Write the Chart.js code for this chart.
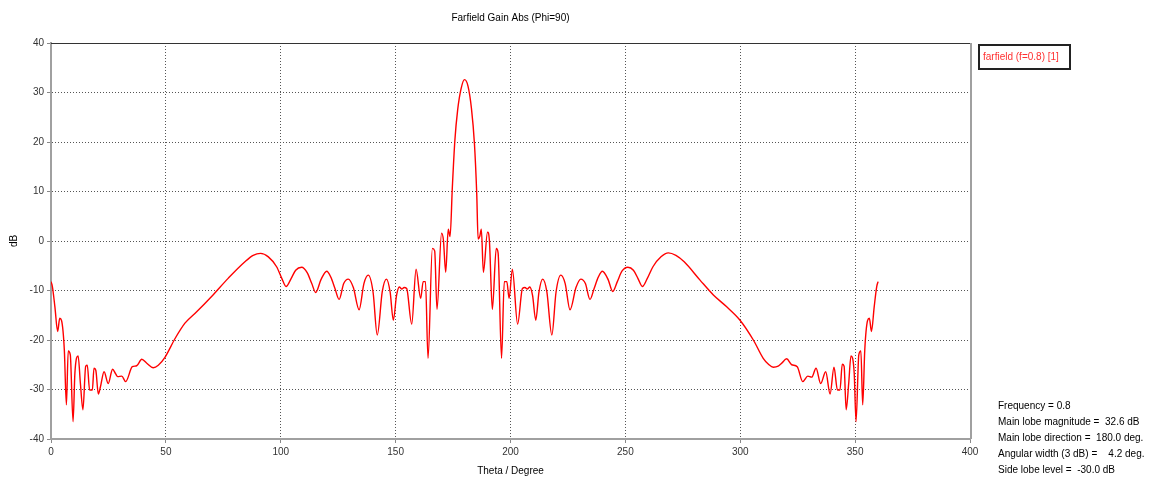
<!DOCTYPE html>
<html>
<head>
<meta charset="utf-8">
<script src="https://cdn.jsdelivr.net/npm/chart.js@4.4.1/dist/chart.umd.min.js"></script>
<style>
  body { margin: 0; background: #fff; }
  #farfieldChart { display: block; }
</style>
</head>
<body>
<canvas id="farfieldChart" width="1157" height="478"></canvas>
<script>
// theta in degrees, gain in dB
const theta = [
  0, 0.6, 1.7, 2.9, 3.8, 4.6, 5.8, 6.7, 7.5, 8.4, 9.6, 10.4, 11.8, 12.8, 13.9, 15.1, 15.8, 16.8, 18, 18.7,
  19.5, 20.6, 21.5, 23.1, 24.9, 26.8, 28.1, 29, 30.8, 32.5, 35.4, 37.3, 39.5, 41.7, 44.5, 46.7, 49.6, 54, 58.3, 63.4,
  69.9, 77.2, 84.4, 88, 91.2, 94.6, 98.2, 100.5, 102.3, 104.5, 106.5, 109.1, 111.5, 113.5, 115.2, 117.5, 120, 121.8, 123.6, 125.4,
  127.4, 129.4, 131.6, 134.1, 136.2, 138.1, 140.2, 142, 144.2, 146, 147.6, 149, 150.4, 151.6, 152.7, 153.7, 154.8, 157, 158.9, 160.9,
  162, 163, 164.1, 166, 167, 168, 170, 170.8, 171.8, 172.9, 173.7, 174.7, 175.8, 177, 178.5, 180,
  181.5, 183, 184.3, 185.3, 185.9, 186.6, 187.3, 188.2, 190, 190.8, 192.1, 193.8, 194.6, 196.1, 197.3, 198.4, 199.4, 200.8, 203.1, 205.2,
  206.3, 207.3, 208.4, 209.6, 211, 212.4, 214, 215.8, 218, 219.8, 221.9, 223.8, 225.9, 228.5, 230.6, 232.6, 234.6, 236.4, 238.2, 240,
  242.5, 244.5, 246.5, 248.5, 251.1, 253.5, 255.5, 257.4, 259.5, 262, 265.5, 268.7, 272, 275.6, 282.5, 288.3, 294.1, 299.9, 305.7, 310,
  312.5, 314.4, 316.5, 318, 320.2, 322.4, 324.8, 327.2, 329.4, 331.1, 333, 335, 337.2, 339.1, 340.8, 342.3, 343.4, 344.4, 345.2, 346.1,
  347.2, 348.2, 349.6, 350.4, 351.6, 352.5, 353.3, 354.2, 355.4, 356.2, 357.1, 358.3, 359.4, 360
];
const gain = [
  -8.2, -9.2, -13.3, -18.3, -15.6, -16.1, -22, -33.1, -22.2, -23, -36.5, -26.7, -23.2, -28.8, -34.1, -25.3, -25.1, -30.1, -30.1, -25.7,
  -26.1, -30.9, -29.5, -26.4, -28.8, -25.9, -26.8, -27.4, -27.3, -28.4, -25.4, -25.2, -23.9, -24.7, -25.6, -25.1, -23.5, -19.7, -16.6, -14.3,
  -11.2, -7.5, -4.2, -2.9, -2.5, -3.2, -5.2, -7.6, -9.2, -7.6, -5.9, -5.3, -6.4, -8.6, -10.4, -7.8, -6.1, -7.3, -9.6, -11.8,
  -8.6, -7.7, -9.4, -13.9, -8.6, -6.9, -10.4, -19, -10.2, -7.7, -10.3, -16, -11, -9.3, -9.7, -9.4, -9.6, -16.8, -5.7, -11.6,
  -8.2, -8.2, -23.7, -1.5, -2, -13.8, 1.6, 0.2, -6.3, 2.4, 0.9, 11, 20.4, 26.5, 30.8, 32.6,
  31.3, 26.8, 19.7, 9.6, 0.4, 0.9, 2.4, -6.3, 1.8, 0.2, -13.8, -1.5, -2.4, -23.7, -8.2, -8.2, -11.6, -5.7, -16.8, -9.6,
  -9.4, -9.7, -9.3, -11, -16, -10.3, -7.7, -10.2, -19, -10.4, -6.9, -8.6, -13.9, -9.4, -7.7, -8.6, -11.8, -9.6, -7.3, -6.1,
  -7.8, -10.2, -8.2, -6.1, -5.3, -5.9, -7.6, -9.2, -7.6, -5.2, -3.2, -2.4, -2.9, -4.2, -7.9, -10.9, -13.3, -16, -20, -23.7,
  -25, -25.5, -25.3, -24.7, -23.8, -25, -25.4, -28.4, -27.3, -27.5, -25.7, -28.8, -26.4, -30.9, -25.5, -30.1, -30.1, -24.9, -25.3, -34.1,
  -28.8, -23.2, -26.7, -36.5, -23, -22.2, -33.1, -22, -16.1, -15.6, -18.3, -13.3, -9.2, -8.2
];
const seriesLabel = 'farfield (f=0.8) [1]';
const chartTitle = 'Farfield Gain Abs (Phi=90)';
const xTitle = 'Theta / Degree';
const yTitle = 'dB';
const infoLines = [
  'Frequency = 0.8',
  'Main lobe magnitude =  32.6 dB',
  'Main lobe direction =  180.0 deg.',
  'Angular width (3 dB) =    4.2 deg.',
  'Side lobe level =  -30.0 dB'
];

const FONT = '"Liberation Sans", Arial, sans-serif';

// draws title, axis titles, frame, legend box and the info block
const decorations = {
  id: 'decorations',
  afterDraw(chart) {
    const c = chart.ctx;
    const a = chart.chartArea;
    c.save();
    c.font = '10px ' + FONT;
    c.fillStyle = '#000';
    c.textAlign = 'center';
    c.textBaseline = 'middle';
    const midX = (a.left + a.right) / 2;
    c.fillText(chartTitle, midX, 18);
    c.fillText(xTitle, midX, 471);
    c.save();
    c.translate(14, (a.top + a.bottom) / 2);
    c.rotate(-Math.PI / 2);
    c.fillText(yTitle, 0, 0);
    c.restore();

    // top and right frame
    c.strokeStyle = '#333';
    c.lineWidth = 1;
    c.beginPath();
    c.moveTo(a.left, a.top + 0.5);
    c.lineTo(a.right, a.top + 0.5);
    c.stroke();
    c.strokeStyle = '#a0a0a0';
    c.lineWidth = 2;
    c.beginPath();
    c.moveTo(a.right + 1, a.top);
    c.lineTo(a.right + 1, a.bottom);
    c.stroke();

    // legend
    c.strokeStyle = '#222';
    c.lineWidth = 2;
    c.strokeRect(979, 45, 91, 24);
    c.fillStyle = '#ff3030';
    c.textAlign = 'left';
    c.fillText(seriesLabel, 983, 57);

    // info block
    c.fillStyle = '#000';
    infoLines.forEach((t, i) => c.fillText(t, 998, 406 + i * 16));
    c.restore();
  }
};

const ctx = document.getElementById('farfieldChart').getContext('2d');
new Chart(ctx, {
  type: 'line',
  data: {
    datasets: [{
      label: seriesLabel,
      data: theta.map((t, i) => ({ x: t, y: gain[i] })),
      borderColor: '#ff0000',
      borderWidth: 1.4,
      pointRadius: 0,
      cubicInterpolationMode: 'monotone',
      fill: false
    }]
  },
  options: {
    responsive: false,
    animation: false,
    layout: { padding: { top: 43, right: 187, left: 0, bottom: 0 } },
    plugins: {
      legend: { display: false },
      title: { display: false },
      tooltip: { enabled: false }
    },
    scales: {
      x: {
        type: 'linear',
        min: 0,
        max: 400,
        afterFit: s => { s.height = 39; },
        ticks: { stepSize: 50, color: '#333', font: { family: FONT, size: 10 }, padding: 3, maxRotation: 0 },
        grid: { color: '#555', tickLength: 4, tickColor: '#888', tickBorderDash: [] },
        border: { color: '#a0a0a0', width: 2, dash: [1, 2] }
      },
      y: {
        min: -40,
        max: 40,
        afterFit: s => { s.width = 51; },
        ticks: { stepSize: 10, color: '#333', font: { family: FONT, size: 10 }, padding: 3 },
        grid: { color: '#555', tickLength: 4, tickColor: '#888', tickBorderDash: [] },
        border: { color: '#a0a0a0', width: 2, dash: [1, 2] }
      }
    }
  },
  plugins: [decorations]
});
</script>
</body>
</html>
